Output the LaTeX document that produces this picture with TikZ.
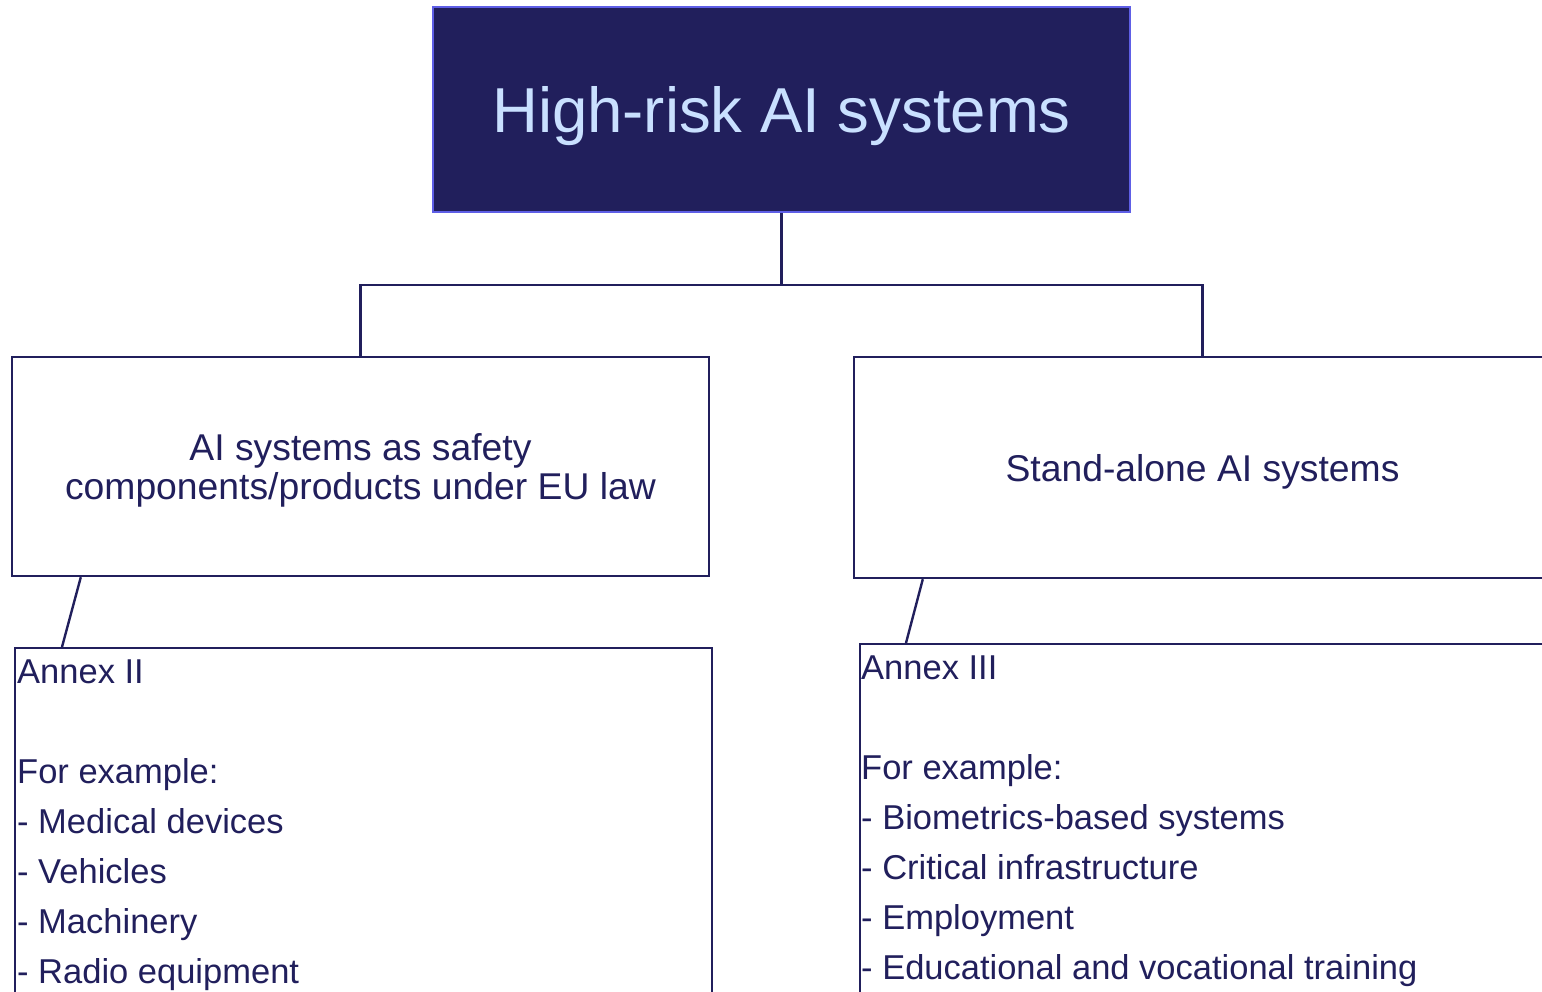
\documentclass[tikz,border=0pt]{standalone}
\usepackage{fontspec}
\setmainfont{Liberation Sans}
\usepackage{tikz}
\definecolor{euNavy}{HTML}{211F5C}
\definecolor{euEdge}{HTML}{5E5EE6}
\definecolor{euPale}{HTML}{C9E0FF}
\tikzset{box/.style={rectangle, draw=euNavy, line width=2.4pt, minimum width=697pt, inner sep=0pt, text=euNavy}}
\tikzset{link/.style={draw=euNavy, line width=2.4pt}}
\tikzset{listtext/.style={anchor=north west, inner sep=0pt, align=left, text=euNavy, font=\fontsize{34.5}{50}\selectfont}}

\begin{document}
\begin{tikzpicture}[x=1pt,y=-1pt]
  \useasboundingbox (0,0) rectangle (1542,992);
  % top level
  \node[box, fill=euNavy, draw=euEdge, text=euPale, minimum height=205pt, text depth=0pt, font=\fontsize{63.5}{70}\selectfont] (hr) at (781.5,109.5) {High-risk AI systems};
  % the two kinds
  \node[box, minimum height=219pt, text depth=0pt, align=center, font=\fontsize{37.3}{39}\selectfont] (safety) at (360.5,466.5) {AI systems as safety\\components/products under EU law};
  \node[box, minimum height=221pt, text depth=0pt, font=\fontsize{37.3}{39}\selectfont] (standalone) at (1202.5,467.5) {Stand-alone AI systems};
  % annex boxes
  \node[box, anchor=north west, minimum height=400pt] (annex2) at (14,647) {};
  \node[box, anchor=north west, minimum height=400pt] (annex3) at (859,643) {};
  \node[listtext] (annex2text) at ([xshift=3pt, yshift=-13pt]annex2.north west) {Annex II\\[50pt]For example:\\- Medical devices\\- Vehicles\\- Machinery\\- Radio equipment};
  \node[listtext] (annex3text) at ([xshift=2pt, yshift=-13pt]annex3.north west) {Annex III\\[50pt]For example:\\- Biometrics-based systems\\- Critical infrastructure\\- Employment\\- Educational and vocational training};
  % connectors
  \coordinate (split) at (781.5,285);
  \draw[link] (hr.south) -- (split);
  \draw[link] (split) -| (safety.north);
  \draw[link] (split) -| (standalone.north);
  \draw[link] ([xshift=70pt]safety.south west) -- ([xshift=48pt]annex2.north west);
  \draw[link] ([xshift=70pt]standalone.south west) -- ([xshift=47pt]annex3.north west);
\end{tikzpicture}
\end{document}
